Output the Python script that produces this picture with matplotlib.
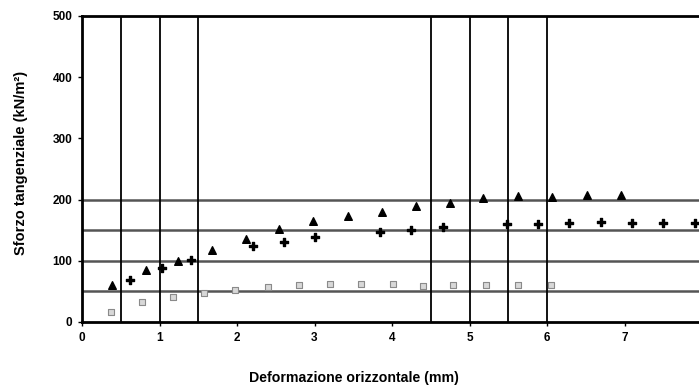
import matplotlib
matplotlib.use("Agg")
import matplotlib.pyplot as plt

# Data
tri_x = [0.39, 0.83, 1.24, 1.68, 2.11, 2.54, 2.98, 3.43, 3.87, 4.31, 4.75, 5.17, 5.63, 6.07, 6.51, 6.96]
tri_y = [61, 85, 100, 118, 135, 152, 165, 174, 180, 189, 195, 202, 206, 205, 207, 207]

crs_x = [0.62, 1.03, 1.41, 2.21, 2.61, 3.01, 3.84, 4.25, 4.66, 5.48, 5.88, 6.29, 6.70, 7.10, 7.50, 7.91]
crs_y = [68, 88, 102, 125, 131, 139, 147, 151, 156, 160, 160, 162, 163, 162, 162, 162]

sq_x = [0.37, 0.77, 1.18, 1.57, 1.98, 2.40, 2.80, 3.20, 3.60, 4.01, 4.40, 4.79, 5.21, 5.63, 6.05]
sq_y = [17, 32, 41, 48, 52, 58, 60, 62, 62, 62, 59, 60, 61, 60, 60]

vlines = [0.5, 1.0, 1.5, 4.5, 5.0, 5.5, 6.0]
hlines = [50, 100, 150, 200]
xticks = [0, 1, 2, 3, 4, 5, 6, 7, 8]
xticklabels = ['0', '1', '2', '3', '4', '5', '6', '7', '']
yticks = [0, 100, 200, 300, 400, 500]

plt.rcParams['font.family'] = ['Liberation Sans', 'DejaVu Sans']

fig = plt.figure(figsize=(6.99, 3.86), dpi=100)
ax = fig.add_axes([82/699, 64/386, 620/699, 306/386])
ax.set_xlim(0, 8)
ax.set_ylim(0, 500)

for y in hlines:
    ax.axhline(y, color='#555555', lw=1.8, zorder=1)
for x in vlines:
    ax.axvline(x, color='black', lw=1.3, zorder=1)

ax.scatter(sq_x, sq_y, marker='s', s=14, facecolor='#d8d8d8', edgecolor='#8a8a8a', lw=0.8, zorder=3)
ax.scatter(tri_x, tri_y, marker='^', s=30, color='black', zorder=3)
ax.scatter(crs_x, crs_y, marker='P', s=36, color='black', zorder=3)

for side in ['left', 'bottom', 'top']:
    ax.spines[side].set_linewidth(2)
ax.spines['right'].set_visible(False)

ax.set_xticks(xticks)
ax.set_xticklabels(xticklabels)
ax.set_yticks(yticks)
ax.tick_params(axis='both', labelsize=8.5, length=3, width=1, pad=4)
for lbl in ax.get_xticklabels() + ax.get_yticklabels():
    lbl.set_fontweight('bold')

ax.set_xlabel('Deformazione orizzontale (mm)', fontsize=10.2, fontweight='bold')
ax.set_ylabel('Sforzo tangenziale (kN/m²)', fontsize=10.5, fontweight='bold')
ax.xaxis.set_label_coords((354 - 82) / 620, (322 - 378) / 306)
ax.yaxis.set_label_coords((21 - 82) / 620, (322 - 163) / 306)
ax.xaxis.label.set_va('center')
ax.yaxis.label.set_va('center')

fig.savefig('out.png', dpi=100)
